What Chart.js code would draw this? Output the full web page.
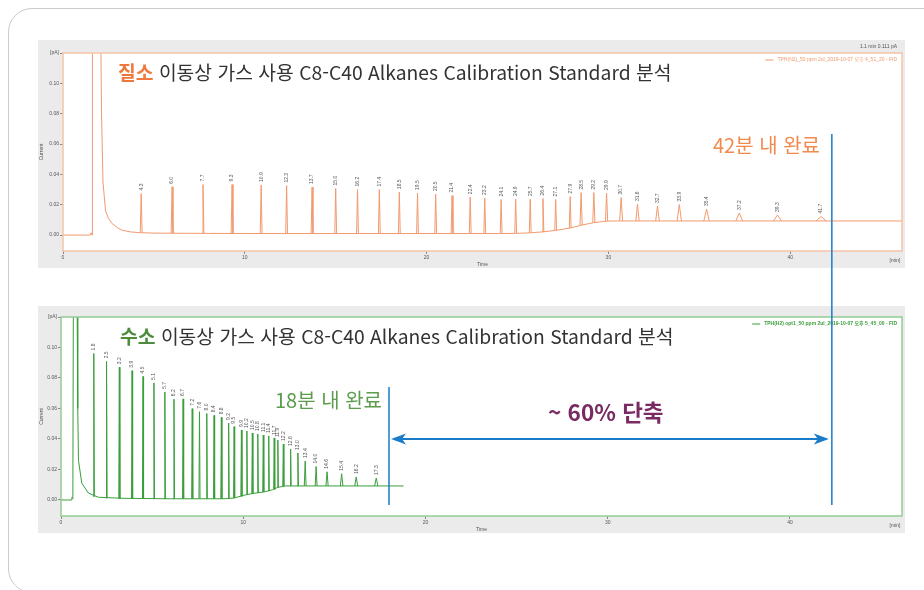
<!DOCTYPE html>
<html lang="ko">
<head>
<meta charset="utf-8">
<title>C8-C40 Alkanes - N2 vs H2 carrier gas</title>
<script src="https://cdn.jsdelivr.net/npm/chart.js@4.4.1/dist/chart.umd.min.js"></script>
<style>
  html, body { margin: 0; padding: 0; background: #fff; }
  body { width: 924px; height: 590px; position: relative; overflow: hidden;
         font-family: "Noto Sans CJK KR", "Noto Sans", sans-serif; }
  #frame { position: absolute; left: 8px; top: 8px; width: 980px; height: 585px;
           border: 1px solid #cbcbcb; border-radius: 24px; box-sizing: border-box; }
  .chrom { position: absolute; left: 38px; }
  #topChart { top: 40px; }
  #botChart { top: 306px; }
  #overlay { position: absolute; left: 0; top: 0; pointer-events: none; z-index: 3; }
  .note { position: absolute; white-space: nowrap; line-height: 1; z-index: 4; }
  .title { font-size: 19.3px; color: #333; }
  #t1 { left: 118px; top: 63px; }
  #t2 { left: 120px; top: 327px; }
  #done42 { left: 713px; top: 135px; font-size: 20px; color: #f28a4e; }
  #done18 { left: 275px; top: 390px; font-size: 20px; color: #5c9c4c; }
  #cut { left: 548px; top: 400px; font-size: 22.5px; font-weight: bold; color: #7a2a62; }
</style>
</head>
<body>
<div id="frame"></div>
<canvas id="topChart" class="chrom" width="867" height="228"></canvas>
<canvas id="botChart" class="chrom" width="867" height="227"></canvas>
<canvas id="overlay" width="924" height="590"></canvas>

<div class="note title" id="t1"><b style="color:#f0783c">질소</b> 이동상 가스 사용 C8-C40 Alkanes Calibration Standard 분석</div>
<div class="note title" id="t2"><b style="color:#4c8c3c">수소</b> 이동상 가스 사용 C8-C40 Alkanes Calibration Standard 분석</div>
<div class="note" id="done42">42분 내 완료</div>
<div class="note" id="done18">18분 내 완료</div>
<div class="note" id="cut">~ 60% 단축</div>

<script>
// axis ticks (same for both runs)
const xTicks = [0, 10, 20, 30, 40];
const xTickLabels = ['0', '10', '20', '30', '40'];
const yTicks = [0, 0.02, 0.04, 0.06, 0.08, 0.10, 0.12];
const yTickLabels = ['0.00', '0.02', '0.04', '0.06', '0.08', '0.10', '[pA]'];

// N2 carrier gas run (min, pA)
const n2PeakTimes = [4.3, 6.0, 7.7, 9.3, 10.9, 12.3, 13.7, 15.0, 16.2, 17.4, 18.5, 19.5, 20.5, 21.4, 22.4, 23.2, 24.1,
  24.9, 25.7, 26.4, 27.1, 27.9, 28.5, 29.2, 29.9, 30.7, 31.6, 32.7, 33.9, 35.4, 37.2, 39.3, 41.7];
const n2PeakHeights = [0.0274, 0.0318, 0.0333, 0.0333, 0.0330, 0.0326, 0.0316, 0.0307, 0.0300, 0.0300, 0.0283, 0.0277,
  0.0270, 0.0260, 0.0250, 0.0244, 0.0234, 0.0237, 0.0237, 0.0241, 0.0234, 0.0254, 0.0280, 0.0280, 0.0277, 0.0247,
  0.0204, 0.0191, 0.0201, 0.0171, 0.0145, 0.0132, 0.0122];
const n2PeakFoot = [0.0016, 0.0012, 0.0011, 0.0010, 0.0010, 0.0010, 0.0010, 0.0010, 0.0010, 0.0010, 0.0010, 0.0010,
  0.0010, 0.0010, 0.0010, 0.0010, 0.0010, 0.0011, 0.0015, 0.0021, 0.0031, 0.0046, 0.0065, 0.0082, 0.0092, 0.0093,
  0.0093, 0.0093, 0.0093, 0.0093, 0.0093, 0.0093, 0.0093];
const n2PeakWidth = [0.05, 0.05, 0.05, 0.05, 0.05, 0.05, 0.05, 0.05, 0.05, 0.05, 0.05, 0.05, 0.05, 0.05, 0.05, 0.05,
  0.05, 0.05, 0.05, 0.05, 0.05, 0.05, 0.06, 0.06, 0.06, 0.08, 0.09, 0.10, 0.12, 0.15, 0.19, 0.23, 0.28];
const n2BaseTimes = [0, 1.5, 1.55, 1.6, 1.62, 2.07, 2.12, 2.2, 2.34, 2.5, 2.7, 3.0, 3.25, 3.7, 4.2, 5.0, 6.0, 8.0,
  12.0, 24.0, 24.9, 25.7, 26.4, 27.1, 27.9, 28.5, 29.2, 29.9, 30.5, 46.15];
const n2BaseValues = [0, 0, 0.0015, 0, 0.14, 0.14, 0.08, 0.035, 0.016, 0.011, 0.0076, 0.0048, 0.0032, 0.0021, 0.0016,
  0.0013, 0.0012, 0.0011, 0.0010, 0.0010, 0.0011, 0.0015, 0.0021, 0.0031, 0.0046, 0.0065, 0.0082, 0.0092, 0.0093, 0.0093];

// H2 carrier gas run
const h2PeakTimes = [1.8, 2.5, 3.2, 3.9, 4.5, 5.1, 5.7, 6.2, 6.7, 7.2, 7.6, 8.0, 8.4, 8.8, 9.2, 9.5, 9.9, 10.2, 10.5,
  10.8, 11.1, 11.4, 11.7, 11.9, 12.2, 12.6, 13.0, 13.4, 14.0, 14.6, 15.4, 16.2, 17.3];
const h2PeakHeights = [0.0961, 0.0909, 0.0871, 0.0848, 0.0810, 0.0768, 0.0708, 0.0661, 0.0663, 0.0599, 0.0579, 0.0567,
  0.0555, 0.0542, 0.0505, 0.0481, 0.0459, 0.0452, 0.0439, 0.0433, 0.0426, 0.0420, 0.0407, 0.0393, 0.0367, 0.0334,
  0.0308, 0.0256, 0.0220, 0.0185, 0.0172, 0.0151, 0.0144];
const h2PeakFoot = [0.0022, 0.0012, 0.0009, 0.0008, 0.0008, 0.0008, 0.0008, 0.0008, 0.0008, 0.0008, 0.0008, 0.0008,
  0.0008, 0.0008, 0.0010, 0.0013, 0.0024, 0.0035, 0.0042, 0.0048, 0.0053, 0.0060, 0.0070, 0.0083, 0.0091, 0.0092,
  0.0092, 0.0092, 0.0092, 0.0092, 0.0092, 0.0092, 0.0092];
const h2PeakWidth = [0.03, 0.03, 0.03, 0.03, 0.03, 0.03, 0.03, 0.03, 0.03, 0.03, 0.03, 0.03, 0.03, 0.03, 0.03, 0.03,
  0.03, 0.03, 0.03, 0.03, 0.03, 0.03, 0.03, 0.03, 0.03, 0.03, 0.03, 0.05, 0.05, 0.06, 0.07, 0.08, 0.09];
const h2BaseTimes = [0, 0.55, 0.6, 0.65, 0.68, 0.88, 0.92, 0.96, 1.14, 1.5, 2.05, 3.4, 6.0, 9.0, 9.5, 10.1, 10.6, 11.2,
  11.6, 11.9, 12.3, 18.8];
const h2BaseValues = [0, 0, 0.0018, 0.001, 0.14, 0.14, 0.06, 0.026, 0.011, 0.0046, 0.0018, 0.0011, 0.0008, 0.0008,
  0.0013, 0.0033, 0.0044, 0.0054, 0.0067, 0.0083, 0.0092, 0.0092];

// end of each run (min) on the H2 time axis
const doneTimes = [18, 42.3];

const tinyFont = { family: '"Liberation Sans", "Noto Sans CJK KR", sans-serif', size: 5 };

function buildTrace(times, values) {
  return times.map((t, i) => ({ x: t, y: values[i] }));
}

// each peak = foot, apex, foot, then a gap
function buildPeaks(times, heights, feet, widths) {
  const pts = [];
  times.forEach((t, i) => {
    pts.push({ x: t - widths[i], y: feet[i] });
    pts.push({ x: t, y: heights[i] });
    pts.push({ x: t + widths[i], y: feet[i] });
    pts.push({ x: t + widths[i], y: null });
  });
  return pts;
}

function makeChrom(id, cfg) {
  const deco = {
    id: 'deco',
    beforeDraw(chart) {
      const { ctx, chartArea: a, width, height } = chart;
      ctx.save();
      ctx.fillStyle = '#ebebeb';
      ctx.fillRect(0, 0, width, height);
      ctx.fillStyle = '#fff';
      ctx.fillRect(a.left, a.top, a.right - a.left, a.bottom - a.top);
      ctx.restore();
    },
    afterDatasetsDraw(chart) {
      const { ctx, chartArea: a, scales } = chart;
      ctx.save();
      // plot frame
      ctx.strokeStyle = cfg.frame;
      ctx.lineWidth = 1.5;
      ctx.strokeRect(a.left, a.top, a.right - a.left, a.bottom - a.top);

      // peak labels, rotated
      ctx.font = '5px "Liberation Sans", sans-serif';
      ctx.fillStyle = '#555';
      ctx.textAlign = 'left';
      ctx.textBaseline = 'middle';
      cfg.times.forEach((t, i) => {
        const px = scales.x.getPixelForValue(t);
        const py = scales.y.getPixelForValue(cfg.heights[i]);
        ctx.save();
        ctx.translate(px, py - 3);
        ctx.rotate(-Math.PI / 2);
        ctx.fillText(t.toFixed(1), 0, 0);
        ctx.restore();
      });

      // legend line + run name
      const name = chart.data.datasets[0].label;
      ctx.font = cfg.legendFont;
      ctx.fillStyle = cfg.color;
      ctx.textAlign = 'right';
      const ly = a.top + 7;
      const tw = ctx.measureText(name).width;
      ctx.fillText(name, a.right - 5, ly);
      ctx.strokeStyle = cfg.color;
      ctx.lineWidth = 1;
      ctx.beginPath();
      ctx.moveTo(a.right - 9 - tw - 8, ly);
      ctx.lineTo(a.right - 9 - tw, ly);
      ctx.stroke();

      // unit + cursor readout
      ctx.fillStyle = '#555';
      ctx.font = '5px "Liberation Sans", sans-serif';
      ctx.textAlign = 'center';
      ctx.fillText('[min]', a.right - 7, a.bottom + 10);
      if (cfg.readout) {
        ctx.textAlign = 'right';
        ctx.fillText(cfg.readout, a.right - 5, a.top - 6);
      }
      ctx.restore();
    },
    afterDraw(chart) {
      if (cfg.onDrawn) cfg.onDrawn(chart);
    }
  };

  return new Chart(document.getElementById(id), {
    type: 'line',
    data: {
      datasets: [
        { label: cfg.name, data: buildTrace(cfg.baseTimes, cfg.baseValues), borderColor: cfg.color,
          borderWidth: 1, pointRadius: 0, tension: 0 },
        { label: 'peaks', data: buildPeaks(cfg.times, cfg.heights, cfg.feet, cfg.widths), borderColor: cfg.color,
          borderWidth: 1, pointRadius: 0, tension: 0, spanGaps: false }
      ]
    },
    options: {
      responsive: false,
      animation: false,
      devicePixelRatio: 1,
      layout: { padding: { left: 0, right: 3, top: cfg.padTop, bottom: 0 } },
      plugins: { legend: { display: false }, tooltip: { enabled: false } },
      scales: {
        x: {
          type: 'linear', min: 0, max: 46.15,
          afterFit(s) { s.height = 17; },
          afterBuildTicks(s) { s.ticks = xTicks.map(v => ({ value: v })); },
          ticks: { font: tinyFont, color: '#555', padding: 1, maxRotation: 0, autoSkip: false,
                   callback: (v, i) => xTickLabels[i] },
          grid: { drawOnChartArea: false, tickLength: 3, color: '#888' },
          border: { display: false },
          title: { display: true, text: 'Time', font: tinyFont, color: '#555', padding: 0 }
        },
        y: {
          min: -0.0105, max: 0.12,
          afterFit(s) { s.width = cfg.yWidth; },
          afterBuildTicks(s) { s.ticks = yTicks.map(v => ({ value: v })); },
          ticks: { font: tinyFont, color: '#555', padding: 1, autoSkip: false,
                   callback: (v, i) => yTickLabels[i] },
          grid: { drawOnChartArea: false, tickLength: 3, color: '#888' },
          border: { display: false },
          title: { display: true, text: 'Current', font: tinyFont, color: '#555', padding: { top: 1, bottom: 0 } }
        }
      }
    },
    plugins: [deco]
  });
}

function drawOverlay(chart) {
  const ov = document.getElementById('overlay').getContext('2d');
  const off = chart.canvas.getBoundingClientRect();
  const x18 = off.left + chart.scales.x.getPixelForValue(doneTimes[0]);
  const x42 = off.left + chart.scales.x.getPixelForValue(doneTimes[1]);
  const blue = '#1a7cc9';
  ov.clearRect(0, 0, 924, 590);
  ov.strokeStyle = blue;
  ov.fillStyle = blue;
  ov.lineWidth = 1.5;
  ov.beginPath();
  ov.moveTo(x42, 134); ov.lineTo(x42, 505);
  ov.moveTo(x18, 387); ov.lineTo(x18, 505);
  ov.stroke();
  // double arrow
  const ay = 439, l = x18 + 2, r = x42 - 3;
  ov.lineWidth = 2;
  ov.beginPath();
  ov.moveTo(l + 10, ay); ov.lineTo(r - 10, ay);
  ov.stroke();
  ov.beginPath();
  ov.moveTo(l, ay); ov.lineTo(l + 15, ay - 5.5); ov.lineTo(l + 11, ay); ov.lineTo(l + 15, ay + 5.5);
  ov.closePath(); ov.fill();
  ov.beginPath();
  ov.moveTo(r, ay); ov.lineTo(r - 15, ay - 5.5); ov.lineTo(r - 11, ay); ov.lineTo(r - 15, ay + 5.5);
  ov.closePath(); ov.fill();
}

makeChrom('topChart', {
  name: 'TPH(N2)_50 ppm 2ul_2019-10-07 오후 4_51_20 - FID',
  color: '#f19a6e', frame: '#f6c3a8',
  legendFont: '5px "Liberation Sans", "Noto Sans CJK KR", sans-serif',
  readout: '1.1 min 0.111 pA',
  padTop: 13, yWidth: 25,
  times: n2PeakTimes, heights: n2PeakHeights, feet: n2PeakFoot, widths: n2PeakWidth,
  baseTimes: n2BaseTimes, baseValues: n2BaseValues
});

makeChrom('botChart', {
  name: 'TPH(H2) opt1_50 ppm 2ul_2019-10-07 오후 5_45_00 - FID',
  color: '#3a9e3a', frame: '#94cc94',
  legendFont: 'bold 5px "Liberation Sans", "Noto Sans CJK KR", sans-serif',
  readout: null,
  padTop: 11, yWidth: 23,
  times: h2PeakTimes, heights: h2PeakHeights, feet: h2PeakFoot, widths: h2PeakWidth,
  baseTimes: h2BaseTimes, baseValues: h2BaseValues,
  onDrawn: drawOverlay
});
</script>
</body>
</html>
